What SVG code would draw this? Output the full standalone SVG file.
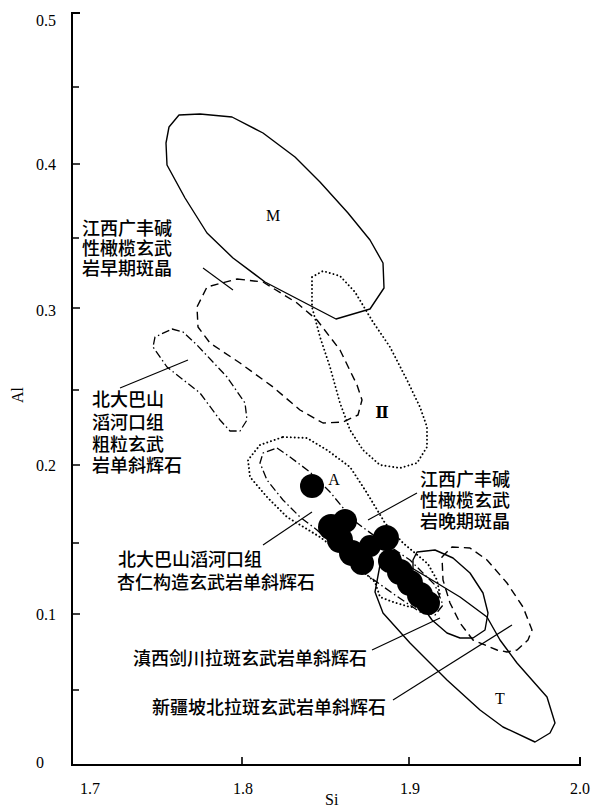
<svg xmlns="http://www.w3.org/2000/svg" width="598" height="807" viewBox="0 0 598 807">
<style>
.ax{stroke:#000;stroke-width:2;fill:none}
.tk{stroke:#000;stroke-width:1.6;fill:none}
.num{font-family:"Liberation Serif",serif;font-size:16px;fill:#000}
.lbl{font-family:"Liberation Serif","DejaVu Serif",serif;font-size:16px;fill:#000}
.cn{font-family:"Noto Sans CJK SC",sans-serif;font-size:18px;font-weight:500;fill:#000}
.solid{fill:none;stroke:#000;stroke-width:1.4;stroke-linejoin:round}
.dash{fill:none;stroke:#000;stroke-width:1.4;stroke-dasharray:8 5;stroke-linejoin:round}
.dashdot{fill:none;stroke:#000;stroke-width:1.3;stroke-dasharray:8 3 1.5 3;stroke-linejoin:round}
.dot{fill:none;stroke:#000;stroke-width:1.9;stroke-dasharray:0.1 3.8;stroke-linecap:round;stroke-linejoin:round}
.leader{stroke:#000;stroke-width:1.1;fill:none}
.pt{fill:#000}
</style>
<rect width="598" height="807" fill="#fff"/>
<g id="axes">
<path class="ax" d="M80,13 H72 V765 H580 V757"/>
<path class="tk" d="M72,87 H79 M72,164 H80 M72,238 H79 M72,308 H80 M72,390 H79 M72,465 H80 M72,543 H79 M72,614 H80 M72,690 H79 M242,765 V757 M409,765 V757"/>
<text class="num" x="36" y="26">0.5</text>
<text class="num" x="36" y="170">0.4</text>
<text class="num" x="36" y="316">0.3</text>
<text class="num" x="36" y="471">0.2</text>
<text class="num" x="36" y="620">0.1</text>
<text class="num" x="36" y="768">0</text>
<text class="num" x="80" y="794">1.7</text>
<text class="num" x="233" y="794">1.8</text>
<text class="num" x="400" y="794">1.9</text>
<text class="num" x="570" y="794">2.0</text>
<text class="num" x="325" y="805">Si</text>
<text class="num" transform="translate(23,395) rotate(-90)" text-anchor="middle">Al</text>
</g>
<g id="field-M">
<path class="solid" d="M179,115 L200,114 L232,117 L263,133 L295,157 L320,182 L348,213 L370,240 L383,263 L384,288 L370,309 L336,319 L265,282 L233,258 L207,233 L185,198 L167,165 L166,143 L169,127 Z"/>
<text class="lbl" x="273" y="221" text-anchor="middle">M</text>
</g>
<g id="field-II">
<path class="dot" d="M312,277 L323,271 L340,276 L355,292 L373,322 L390,347 L407,380 L420,407 L427,427 L427,447 L417,463 L400,468 L380,465 L363,450 L350,430 L340,403 L330,367 L320,337 L312,307 Z"/>
<text class="lbl" x="382" y="418" text-anchor="middle" font-weight="bold">Ⅱ</text>
</g>
<g id="field-early">
<path class="dash" d="M237,279 L263,282 L297,303 L317,320 L340,350 L357,385 L362,400 L358,415 L343,422 L323,423 L300,410 L273,387 L240,363 L210,343 L198,327 L197,307 L207,287 Z"/>
</g>
<g id="field-coarse">
<path class="dashdot" d="M172,329 L183,332 L197,345 L227,377 L245,403 L247,420 L240,431 L230,431 L220,420 L200,393 L167,367 L153,347 L155,337 Z"/>
</g>
<g id="field-outer-dotted">
<path class="dot" d="M283,437 L307,438 L327,450 L350,467 L367,493 L385,523 L403,543 L415,553 L428,564 L437,580 L440,595 L432,606 L410,607 L393,602 L380,597 L375,582 L350,560 L320,537 L287,517 L267,497 L250,477 L248,460 L260,445 Z"/>
</g>
<g id="field-late">
<path class="dashdot" d="M277,448 L290,457 L310,472 L330,492 L353,520 L380,540 L410,560 L435,585 L443,605 L435,615 L420,612 L395,595 L360,570 L317,530 L300,517 L283,500 L267,480 L260,463 L263,453 Z"/>
</g>
<g id="field-dianxi">
<path class="solid" d="M417,552 L435,550 L453,558 L470,573 L483,593 L488,613 L485,630 L473,638 L460,638 L447,633 L432,620 L420,603 L413,580 L413,560 Z"/>
</g>
<g id="field-right-dashed">
<path class="dash" d="M442,557 L452,547 L470,548 L487,560 L507,583 L523,607 L532,630 L528,640 L517,650 L507,652 L497,650 L473,640 L460,623 L450,603 L443,580 Z"/>
</g>
<g id="field-T">
<path class="solid" d="M380,565 L395,558 L427,577 L460,597 L487,617 L500,640 L517,663 L547,697 L555,723 L550,733 L535,742 L503,727 L480,710 L447,680 L410,643 L383,613 L375,592 Z"/>
<text class="lbl" x="500" y="704" text-anchor="middle">T</text>
</g>
<g id="points">
<circle class="pt" cx="312" cy="486" r="12"/>
<text class="lbl" x="334" y="485" text-anchor="middle">A</text>
<circle class="pt" cx="331" cy="527" r="13"/>
<circle class="pt" cx="345" cy="521" r="12"/>
<circle class="pt" cx="340" cy="540" r="13"/>
<circle class="pt" cx="352" cy="553" r="13"/>
<circle class="pt" cx="362" cy="563" r="12"/>
<circle class="pt" cx="370" cy="546" r="11"/>
<circle class="pt" cx="386" cy="538" r="13"/>
<circle class="pt" cx="390" cy="561" r="12"/>
<circle class="pt" cx="400" cy="572" r="13"/>
<circle class="pt" cx="410" cy="583" r="13"/>
<circle class="pt" cx="420" cy="595" r="13"/>
<circle class="pt" cx="428" cy="603" r="12"/>
</g>
<g id="connectors">
<path class="leader" d="M203,268 L233,290"/>
<path class="leader" d="M120,388 L188,360"/>
<path class="leader" d="M263,545 L312,512"/>
<path class="leader" d="M368,520 L417,493"/>
<path class="leader" d="M372,650 L440,618"/>
<path class="leader" d="M393,700 L512,625"/>
</g>
<g id="label-early">
<text class="cn" x="82" y="235">江西广丰碱</text>
<text class="cn" x="82" y="255">性橄榄玄武</text>
<text class="cn" x="82" y="275">岩早期斑晶</text>
</g>
<g id="label-coarse">
<text class="cn" x="92" y="406">北大巴山</text>
<text class="cn" x="92" y="429">滔河口组</text>
<text class="cn" x="92" y="451">粗粒玄武</text>
<text class="cn" x="92" y="472">岩单斜辉石</text>
</g>
<g id="label-amygdaloidal">
<text class="cn" x="118" y="566">北大巴山滔河口组</text>
<text class="cn" x="117" y="589">杏仁构造玄武岩单斜辉石</text>
</g>
<g id="label-late">
<text class="cn" x="420" y="486">江西广丰碱</text>
<text class="cn" x="420" y="507">性橄榄玄武</text>
<text class="cn" x="420" y="528">岩晚期斑晶</text>
</g>
<g id="label-dianxi">
<text class="cn" x="133" y="665">滇西剑川拉斑玄武岩单斜辉石</text>
</g>
<g id="label-xinjiang">
<text class="cn" x="152" y="714">新疆坡北拉斑玄武岩单斜辉石</text>
</g>
</svg>
